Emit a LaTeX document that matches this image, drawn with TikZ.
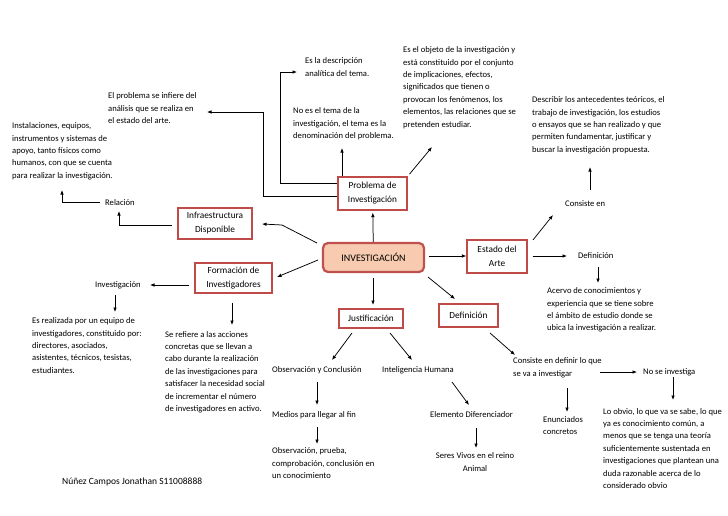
\documentclass[tikz,border=0pt]{standalone}
\usepackage{fontspec}
\setmainfont{Carlito}
\usetikzlibrary{arrows.meta}
\definecolor{boxred}{RGB}{190,75,72}
\definecolor{invfill}{RGB}{248,203,176}
\definecolor{invborder}{RGB}{192,80,77}
\newcommand{\bodyfnt}{\fontsize{8.6}{12.4}\selectfont}
\newcommand{\boxfnt}{\fontsize{9.3}{14}\selectfont}
\newcommand{\footfnt}{\fontsize{9.5}{12}\selectfont}
\newcommand{\invfnt}{\fontsize{10}{12}\selectfont}
\begin{document}
\begin{tikzpicture}[x=1pt,y=-1pt,
  box/.style={draw=boxred,line width=1.2pt,fill=white,inner sep=0pt,align=center,font=\boxfnt},
  txt/.style={inner sep=0pt,align=left,anchor=north west,font=\bodyfnt,execute at begin node=\rule{0pt}{7.5pt}},
  arr/.style={-{Latex[length=4.5pt,width=3.6pt]},line width=0.75pt},
  ln/.style={line width=0.75pt}]
\fill[white] (0,0) rectangle (728,515);
\useasboundingbox (0,0) rectangle (728,515);

% boxes
\node[draw=invborder,line width=2.2pt,fill=invfill,rounded corners=5pt,minimum width=101pt,minimum height=29pt,inner sep=0pt,font=\invfnt] (inv) at (373.5,257.5) {INVESTIGACIÓN};
\node[box,minimum width=69pt,minimum height=33pt] (prob) at (372.5,193.5) {Problema de\\Investigación};
\node[box,minimum width=74pt,minimum height=31pt] (infra) at (215,223.5) {Infraestructura\\Disponible};
\node[box,minimum width=77pt,minimum height=30pt] (form) at (233.5,278) {Formación de\\Investigadores};
\node[box,minimum width=60pt,minimum height=33pt] (estado) at (497,256.5) {Estado del\\Arte};
\node[box,minimum width=64pt,minimum height=19pt] (just) at (371,318.5) {Justificación};
\node[box,minimum width=59pt,minimum height=23pt] (def) at (468.5,315.5) {Definición};

% texts
\node[txt] (infiere) at (108,92.5) {El problema se infiere del\\análisis que se realiza en\\el estado del arte.};
\node[txt] (instal) at (12,122.5) {Instalaciones, equipos,\\instrumentos y sistemas de\\apoyo, tanto físicos como\\humanos, con que se cuenta\\para realizar la investigación.};
\node[txt] (relacion) at (105,198) {Relación};
\node[txt] (descr) at (305,57.5) {Es la descripción\\analítica del tema.};
\node[txt] (notema) at (293,107.5) {No es el tema de la\\investigación, el tema es la\\denominación del problema.};
\node[txt] (objeto) at (403,46.5) {Es el objeto de la investigación y\\está constituido por el conjunto\\de implicaciones, efectos,\\significados que tienen o\\provocan los fenómenos, los\\elementos, las relaciones que se\\pretenden estudiar.};
\node[txt] (describir) at (532,96.5) {Describir los antecedentes teóricos, el\\trabajo de investigación, los estudios\\o ensayos que se han realizado y que\\permiten fundamentar, justificar y\\buscar la investigación propuesta.};
\node[txt] (consisteen) at (565,199) {Consiste en};
\node[txt] (definicion) at (578,250.5) {Definición};
\node[txt] (acervo) at (547,287.5) {Acervo de conocimientos y\\experiencia que se tiene sobre\\el ámbito de estudio donde se\\ubica la investigación a realizar.};
\node[txt] (investig) at (95,279.5) {Investigación};
\node[txt] (realizada) at (32,317.5) {Es realizada por un equipo de\\investigadores, constituido por:\\directores, asociados,\\asistentes, técnicos, tesistas,\\estudiantes.};
\node[txt] (refiere) at (165,331) {Se refiere a las acciones\\concretas que se llevan a\\cabo durante la realización\\de las investigaciones para\\satisfacer la necesidad social\\de incrementar el número\\de investigadores en activo.};
\node[txt] (obs) at (272,364.5) {Observación y Conclusión};
\node[txt] (intel) at (382,364.5) {Inteligencia Humana};
\node[txt] (medios) at (272,409.5) {Medios para llegar al fin};
\node[txt] (obsprueba) at (272,447.5) {Observación, prueba,\\comprobación, conclusión en\\un conocimiento};
\node[txt] (elemento) at (430,409.5) {Elemento Diferenciador};
\node[txt,anchor=north,align=center] (seres) at (475,452.5) {Seres Vivos en el reino\\Animal};
\node[txt] (consdef) at (513,357.5) {Consiste en definir lo que\\se va a investigar};
\node[txt] (noinv) at (643,366.5) {No se investiga};
\node[txt] (enunc) at (543,416) {Enunciados\\concretos};
\node[txt] (obvio) at (603,408) {Lo obvio, lo que va se sabe, lo que\\ya es conocimiento común, a\\menos que se tenga una teoría\\suficientemente sustentada en\\investigaciones que plantean una\\duda razonable acerca de lo\\considerado obvio};
\node[txt,font=\footfnt] (footer) at (62,477) {Núñez Campos Jonathan S11008888};

% connectors
\draw[arr,shorten >=2pt] (inv) -- (prob);
\draw[arr] (prob.north -| 342,0) -- (342,148);
\draw[arr] (prob.west |- 0,183) -| (280,72) -- (297,72);
\draw[arr] (prob.west |- 0,196) -| (263,112) -- (207,112);
\draw[arr,shorten <=3pt] (prob.north east) -- (432,147);
\draw[arr] (317,243) -- (282,225) -- (262,224);
\draw[arr] (infra.west |- 0,225) ++(-5,0) -| (119,211);
\draw[arr] (relacion.west) ++(-5,0) -| (62,190);
\draw[arr] (318,260) -- (277,277);
\draw[arr] (form.west |- 0,285) ++(-5,0) -- (150,285);
\draw[arr] (115,295) -- (115,312);
\draw[arr] (232,303) -- (232,325);
\draw[arr] (373,278) -- (373,305);
\draw[arr] (352,333) -- (332,360);
\draw[arr] (390,333) -- (412,360);
\draw[arr] (317,382) -- (317,405);
\draw[arr] (317,427) -- (317,444);
\draw[arr] (452,382) -- (469,405);
\draw[arr] (476,428) -- (476,448);
\draw[arr] (428,277) -- (455,299);
\draw[arr] (490,333) -- (515,355);
\draw[arr] (600,372) -- (637,372);
\draw[arr] (567,388) -- (567,412);
\draw[arr] (673,377) -- (673,400);
\draw[arr] (inv.east |- 0,256) ++(4,0) -- (estado.west |- 0,256);
\draw[arr] (estado.east |- 0,256) ++(5,0) -- (567,256);
\draw[arr] (598,267) -- (598,283);
\draw[arr] (533,240) -- (553,215);
\draw[arr] (590,190) -- (590,167);
\end{tikzpicture}
\end{document}
